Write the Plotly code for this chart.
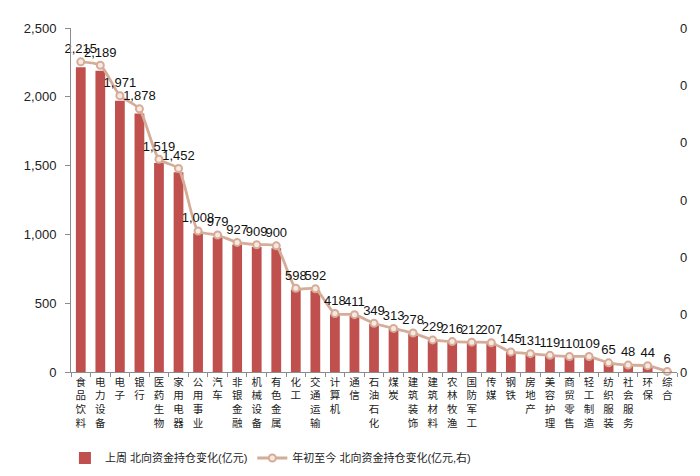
import plotly.graph_objects as go

categories = ["食品饮料", "电力设备", "电子", "银行", "医药生物", "家用电器", "公用事业", "汽车",
              "非银金融", "机械设备", "有色金属", "化工", "交通运输", "计算机", "通信", "石油石化",
              "煤炭", "建筑装饰", "建筑材料", "农林牧渔", "国防军工", "传媒", "钢铁", "房地产",
              "美容护理", "商贸零售", "轻工制造", "纺织服装", "社会服务", "环保", "综合"]

weekly_change = [2215, 2189, 1971, 1878, 1519, 1452, 1008, 979, 927, 909, 900, 598, 592, 418,
                 411, 349, 313, 278, 229, 216, 212, 207, 145, 131, 119, 110, 109, 65, 48, 44, 6]

ytd_change = [0.0541, 0.0535, 0.0482, 0.0459, 0.0371, 0.0355, 0.0246, 0.0239, 0.0226, 0.0222,
              0.0220, 0.0146, 0.0145, 0.0102, 0.0100, 0.0085, 0.0076, 0.0068, 0.0056, 0.0053,
              0.0052, 0.0051, 0.0035, 0.0032, 0.0029, 0.0027, 0.0027, 0.0016, 0.0012, 0.0011,
              0.0001]

left_ticks = [0, 500, 1000, 1500, 2000, 2500]
right_ticks = [0, 0.01, 0.02, 0.03, 0.04, 0.05, 0.06]

tick_text = ["<br>".join(list(c)) for c in categories]
labels = [f"{v:,}" for v in weekly_change]

BAR = "#C0504D"
LINE = "#D5AC98"
FONT = "Liberation Sans, Arial, Noto Sans CJK SC, sans-serif"

fig = go.Figure()
fig.add_trace(go.Bar(
    x=categories, y=weekly_change, name="上周 北向资金持仓变化(亿元)",
    marker=dict(color=BAR, line=dict(width=0)), yaxis="y",
))
fig.add_trace(go.Scatter(
    x=categories, y=ytd_change, name="年初至今 北向资金持仓变化(亿元,右)",
    mode="lines+markers+text", yaxis="y2",
    line=dict(color=LINE, width=2.8, shape="spline", smoothing=0.6),
    marker=dict(symbol="circle", size=7, color="#F7E9E2", line=dict(color=LINE, width=2)),
    text=labels, textposition="top center",
    textfont=dict(size=13, color="#111111", family=FONT),
    cliponaxis=False,
))

fig.update_layout(
    width=700, height=476,
    margin=dict(l=63, r=31, t=20, b=107),
    paper_bgcolor="white", plot_bgcolor="white",
    font=dict(family=FONT, size=13, color="#222222"),
    bargap=0.5,
    showlegend=True,
    legend=dict(orientation="h", x=-0.01, y=-0.25, xanchor="left", yanchor="middle",
                font=dict(size=11, color="#222222"), itemwidth=30,
                traceorder="normal"),
    xaxis=dict(
        range=[-0.5, len(categories) - 0.5], autorange=False,
        tickmode="array", tickvals=categories, ticktext=tick_text,
        tickangle=0, tickfont=dict(size=10.5, color="#222222"),
        showline=True, linecolor="#8C8C8C", linewidth=1,
        ticks="outside", tickson="boundaries", ticklen=4, tickcolor="#8C8C8C",
        showgrid=False, zeroline=False,
    ),
    yaxis=dict(
        range=[0, 2500], tickmode="array", tickvals=left_ticks,
        tickformat=",", showline=True, linecolor="#8C8C8C", linewidth=1,
        ticks="outside", ticklen=5, tickcolor="#8C8C8C",
        showgrid=False, zeroline=False, ticklabelstandoff=6,
        tickfont=dict(size=13, color="#222222"),
    ),
    yaxis2=dict(
        range=[0, 0.06], overlaying="y", side="right", tickmode="array",
        tickvals=right_ticks, tickformat=".0f", showline=False,
        ticks="", showgrid=False, zeroline=False, ticklabelstandoff=2,
        tickfont=dict(size=13, color="#222222"),
    ),
)

fig.write_html("out.html")
